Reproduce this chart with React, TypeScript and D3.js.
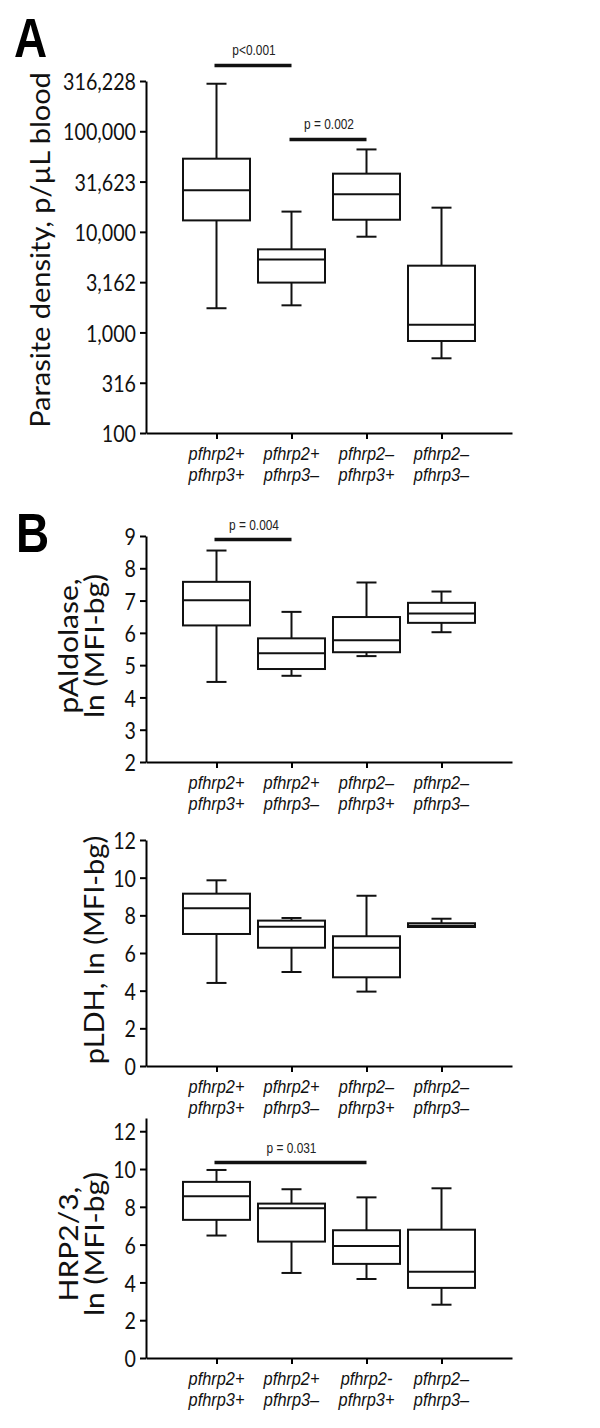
import React, { useEffect, useRef } from "react";
import * as d3 from "d3";

// groups shown on every x axis
const groups = ["p2+p3+", "p2+p3-", "p2-p3+", "p2-p3-"];
const groupLabels = [
  ["pfhrp2+", "pfhrp3+"],
  ["pfhrp2+", "pfhrp3–"],
  ["pfhrp2–", "pfhrp3+"],
  ["pfhrp2–", "pfhrp3–"],
];
// last panel uses a plain hyphen for the third group
const groupLabelsHrp = [
  ["pfhrp2+", "pfhrp3+"],
  ["pfhrp2+", "pfhrp3–"],
  ["pfhrp2-", "pfhrp3+"],
  ["pfhrp2–", "pfhrp3–"],
];

// box summaries: [min, q1, median, q3, max]
const densityBoxes = [
  [1740, 13000, 25900, 53400, 297000],
  [1860, 3130, 5300, 6700, 15900],
  [8950, 13200, 23600, 37900, 66000],
  [553, 822, 1195, 4610, 17400],
];
const densityTicks = [100, 316, 1000, 3162, 10000, 31623, 100000, 316228];
// comparisons: [from, to, height, label]
const densitySig = [
  [0, 1, 452000, "p<0.001"],
  [1, 2, 83000, "p = 0.002"],
];

const aldolaseBoxes = [
  [4.48, 6.23, 7.01, 7.58, 8.55],
  [4.67, 4.88, 5.37, 5.83, 6.65],
  [5.28, 5.4, 5.77, 6.49, 7.56],
  [6.02, 6.31, 6.6, 6.93, 7.28],
];
const aldolaseTicks = [2, 3, 4, 5, 6, 7, 8, 9];
const aldolaseSig = [[0, 1, 8.89, "p = 0.004"]];

const ldhBoxes = [
  [4.41, 7.01, 8.37, 9.15, 9.86],
  [4.99, 6.28, 7.4, 7.72, 7.86],
  [3.95, 4.71, 6.28, 6.89, 9.04],
  [7.38, 7.38, 7.45, 7.58, 7.82],
];
const ldhTicks = [0, 2, 4, 6, 8, 10, 12];

const hrpBoxes = [
  [6.48, 7.31, 8.56, 9.32, 9.95],
  [4.5, 6.16, 7.92, 8.17, 8.93],
  [4.18, 4.98, 5.93, 6.76, 8.5],
  [2.82, 3.71, 4.57, 6.79, 8.98],
];
const hrpTicks = [0, 2, 4, 6, 8, 10, 12];
const hrpSig = [[0, 2, 10.34, "p = 0.031"]];

const App = () => {
  const svgRef = useRef<SVGSVGElement>(null);

  useEffect(() => {
    const svg = d3.select(svgRef.current);
    svg.selectAll("*").remove();

    const axisX0 = 146;
    const axisX1 = 512;
    const x = d3.scalePoint<string>().domain(groups).range([axisX0, axisX1]).padding(0.94);

    const panels = [
      {
        boxes: densityBoxes,
        ticks: densityTicks,
        y: d3.scaleLog().domain([100, 316228]).range([433, 81]),
        fmt: d3.format(","),
        labels: groupLabels,
        title: ["Parasite density, p/µL blood"],
        titleX: [50],
        titleY: 250,
        titleSize: 29,
        sig: densitySig,
      },
      {
        boxes: aldolaseBoxes,
        ticks: aldolaseTicks,
        y: d3.scaleLinear().domain([2, 9]).range([762, 536]),
        fmt: d3.format("d"),
        labels: groupLabels,
        title: ["pAldolase,", "ln (MFI-bg)"],
        titleX: [78, 104],
        titleY: 646,
        titleSize: 30,
        sig: aldolaseSig,
      },
      {
        boxes: ldhBoxes,
        ticks: ldhTicks,
        y: d3.scaleLinear().domain([0, 12]).range([1066, 840]),
        fmt: d3.format("d"),
        labels: groupLabels,
        title: ["pLDH, ln (MFI-bg)"],
        titleX: [104],
        titleY: 950,
        titleSize: 29,
        sig: [],
      },
      {
        boxes: hrpBoxes,
        ticks: hrpTicks,
        y: d3.scaleLinear().domain([0, 12.7]).range([1358, 1118]),
        fmt: d3.format("d"),
        labels: groupLabelsHrp,
        title: ["HRP2/3,", "ln (MFI-bg)"],
        titleX: [78, 104],
        titleY: 1244,
        titleSize: 30,
        sig: hrpSig,
      },
    ];

    panels.forEach((p) => {
      const g = svg.append("g");
      const base = p.y.range()[0];

      // y axis
      const yAxis = g
        .append("g")
        .attr("transform", `translate(${axisX0},0)`)
        .call(
          d3
            .axisLeft(p.y as any)
            .tickValues(p.ticks)
            .tickFormat((d: any) => p.fmt(d))
            .tickSize(6)
            .tickSizeOuter(0)
        );
      yAxis.select(".domain").attr("stroke-width", 2);
      yAxis.selectAll(".tick line").attr("stroke-width", 2);
      yAxis
        .selectAll(".tick text")
        .attr("x", -10 / 0.82)
        .attr("dy", "0.36em")
        .attr("transform", "scale(0.82,1)")
        .attr("font-family", "Lato, 'Open Sans', sans-serif")
        .attr("font-size", 24)
        .attr("fill", "#111");

      // x axis
      const xAxis = g
        .append("g")
        .attr("transform", `translate(0,${base})`)
        .call(d3.axisBottom(x).tickSize(6).tickSizeOuter(0).tickFormat(() => ""));
      xAxis.select(".domain").attr("stroke-width", 2);
      xAxis.selectAll(".tick line").attr("stroke-width", 2);

      // category labels
      const lab = g
        .selectAll(".cat")
        .data(p.labels)
        .join("text")
        .attr("class", "cat")
        .attr("transform", (_d, i) => `translate(${x(groups[i])},${base}) scale(0.86,1)`)
        .attr("text-anchor", "middle")
        .attr("font-family", "'Liberation Sans', Arial, sans-serif")
        .attr("font-style", "italic")
        .attr("font-size", 19)
        .attr("fill", "#111");
      lab
        .selectAll("tspan")
        .data((d) => d)
        .join("tspan")
        .attr("x", 0)
        .attr("y", (_d, i) => 27 + i * 21)
        .text((d) => d);

      // boxes
      const bw = 67;
      const cw = 20;
      const box = g
        .selectAll(".box")
        .data(p.boxes)
        .join("g")
        .attr("class", "box")
        .attr("transform", (_d, i) => `translate(${x(groups[i])},0)`)
        .attr("stroke", "#111")
        .attr("stroke-width", 2)
        .attr("fill", "none");
      box.append("line").attr("y1", (d) => p.y(d[4])).attr("y2", (d) => p.y(d[3]));
      box.append("line").attr("y1", (d) => p.y(d[0])).attr("y2", (d) => p.y(d[1]));
      box
        .append("line")
        .attr("x1", -cw / 2)
        .attr("x2", cw / 2)
        .attr("y1", (d) => p.y(d[4]))
        .attr("y2", (d) => p.y(d[4]));
      box
        .append("line")
        .attr("x1", -cw / 2)
        .attr("x2", cw / 2)
        .attr("y1", (d) => p.y(d[0]))
        .attr("y2", (d) => p.y(d[0]));
      box
        .append("rect")
        .attr("x", -bw / 2)
        .attr("width", bw)
        .attr("y", (d) => p.y(d[3]))
        .attr("height", (d) => p.y(d[1]) - p.y(d[3]))
        .attr("fill", "#fff");
      box
        .append("line")
        .attr("x1", -bw / 2)
        .attr("x2", bw / 2)
        .attr("y1", (d) => p.y(d[2]))
        .attr("y2", (d) => p.y(d[2]));

      // significance bars
      p.sig.forEach((s: any[]) => {
        const xa = x(groups[s[0]])!;
        const xb = x(groups[s[1]])!;
        const yy = p.y(s[2]);
        g.append("line")
          .attr("x1", xa - 2)
          .attr("x2", xb)
          .attr("y1", yy)
          .attr("y2", yy)
          .attr("stroke", "#111")
          .attr("stroke-width", 3.5);
        g.append("text")
          .attr("transform", `translate(${(xa + xb) / 2},${yy - 10}) scale(0.85,1)`)
          .attr("text-anchor", "middle")
          .attr("font-family", "'Liberation Sans', Arial, sans-serif")
          .attr("font-size", 14)
          .attr("fill", "#222")
          .text(s[3]);
      });

      // axis title
      p.title.forEach((t, i) => {
        g.append("text")
          .attr("transform", `translate(${p.titleX[i]},${p.titleY}) rotate(-90) scale(1,0.9)`)
          .attr("text-anchor", "middle")
          .attr("font-family", "Lato, 'Open Sans', sans-serif")
          .attr("font-size", p.titleSize)
          .attr("fill", "#111")
          .text(t);
      });
    });

    // panel letters
    [
      ["A", 14, 57],
      ["B", 16, 552],
    ].forEach(([t, lx, ly]) => {
      svg
        .append("text")
        .attr("transform", `translate(${lx},${ly}) scale(0.82,1)`)
        .attr("font-family", "'Liberation Sans', Arial, sans-serif")
        .attr("font-weight", "bold")
        .attr("font-size", 56)
        .attr("fill", "#000")
        .text(t as string);
    });
  }, []);

  return (
    <svg
      ref={svgRef}
      width={600}
      height={1428}
      style={{ position: "absolute", left: 0, top: 0, background: "#fff" }}
    ></svg>
  );
};

export default App;
